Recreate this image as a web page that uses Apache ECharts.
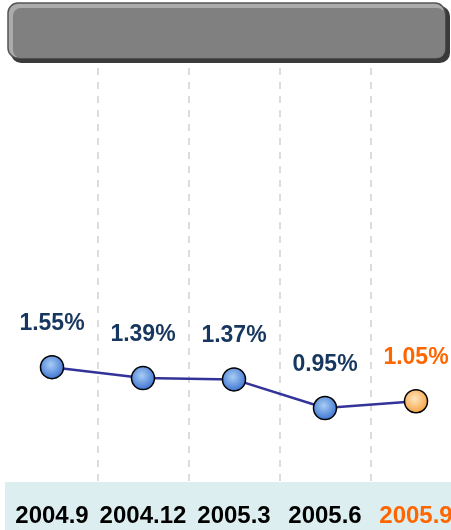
<!DOCTYPE html>
<html>
<head>
<meta charset="utf-8">
<script src="https://cdn.jsdelivr.net/npm/echarts@6/dist/echarts.min.js"></script>
<style>
  html, body { margin: 0; padding: 0; background: #fff; }
  #chart { width: 451px; height: 530px; }
</style>
</head>
<body>
<div id="chart"></div>
<script>
// periods and rates
const periods = ["2004.9", "2004.12", "2005.3", "2005.6", "2005.9"];
const rates = [1.55, 1.39, 1.37, 0.95, 1.05];
const lastIndex = periods.length - 1; // latest period is highlighted

const navy = "#17375E";
const orange = "#FF6600";
const font = "'Liberation Sans', Arial, sans-serif";

function ball(inner, outer) {
  return {
    type: "radial", x: 0.45, y: 0.4, r: 0.6,
    colorStops: [
      { offset: 0, color: inner },
      { offset: 1, color: outer },
    ],
  };
}

const chart = echarts.init(document.getElementById("chart"));

let points = [];
for (let i = 0; i < rates.length; i++) {
  let isLast = i === lastIndex;
  points.push({
    value: rates[i],
    itemStyle: {
      color: isLast ? ball("#FFE6C0", "#F5A040") : ball("#A8CCF5", "#3A72D0"),
    },
    label: { color: isLast ? orange : navy },
  });
}

let option = {
  animation: false,
  grid: { left: 6.5, width: 455, top: 40, bottom: 47, outerBoundsMode: "none" },
  xAxis: {
    type: "category",
    data: periods,
    boundaryGap: true,
    axisLine: { show: false },
    axisTick: { show: false },
    axisLabel: {
      interval: 0,
      margin: 21,
      fontSize: 24,
      fontWeight: "bold",
      fontFamily: font,
      color: (v, i) => (i === lastIndex ? orange : "#000"),
    },
    splitLine: {
      show: true,
      interval: 0,
      showMinLine: false,
      showMaxLine: false,
      lineStyle: { color: "#DCDCDC", width: 2, type: [7, 7] },
    },
    z: 3,
  },
  yAxis: {
    type: "value",
    min: -0.15,
    max: 6.35,
    show: false,
  },
  graphic: [
    // light band behind category labels
    {
      type: "rect", z: 0, silent: true,
      shape: { x: 5, y: 482, width: 446, height: 48 },
      style: { fill: "#DDEEF1" },
    },
    // header bar with shadow
    {
      type: "rect", z: 10, silent: true,
      shape: { x: 11, y: 6, width: 439, height: 57, r: 10 },
      style: { fill: "#3A3A3A" },
    },
    {
      type: "rect", z: 11, silent: true,
      shape: { x: 8, y: 3, width: 437, height: 55, r: 10 },
      style: { fill: "#ABABAB", stroke: "#555", lineWidth: 1.5 },
    },
    {
      type: "rect", z: 12, silent: true,
      shape: { x: 13, y: 8, width: 432, height: 50, r: 8 },
      style: { fill: "#808080" },
    },
  ],
  series: [
    {
      type: "line",
      data: points,
      symbol: "circle",
      symbolSize: 23,
      lineStyle: { color: "#333399", width: 2.5 },
      itemStyle: { borderColor: "#000", borderWidth: 1.5 },
      label: {
        show: true,
        position: "top",
        distance: 20,
        fontSize: 23,
        fontWeight: "bold",
        fontFamily: font,
        formatter: (p) => p.value.toFixed(2) + "%",
      },
      z: 5,
    },
  ],
};
chart.setOption(option);
</script>
</body>
</html>
